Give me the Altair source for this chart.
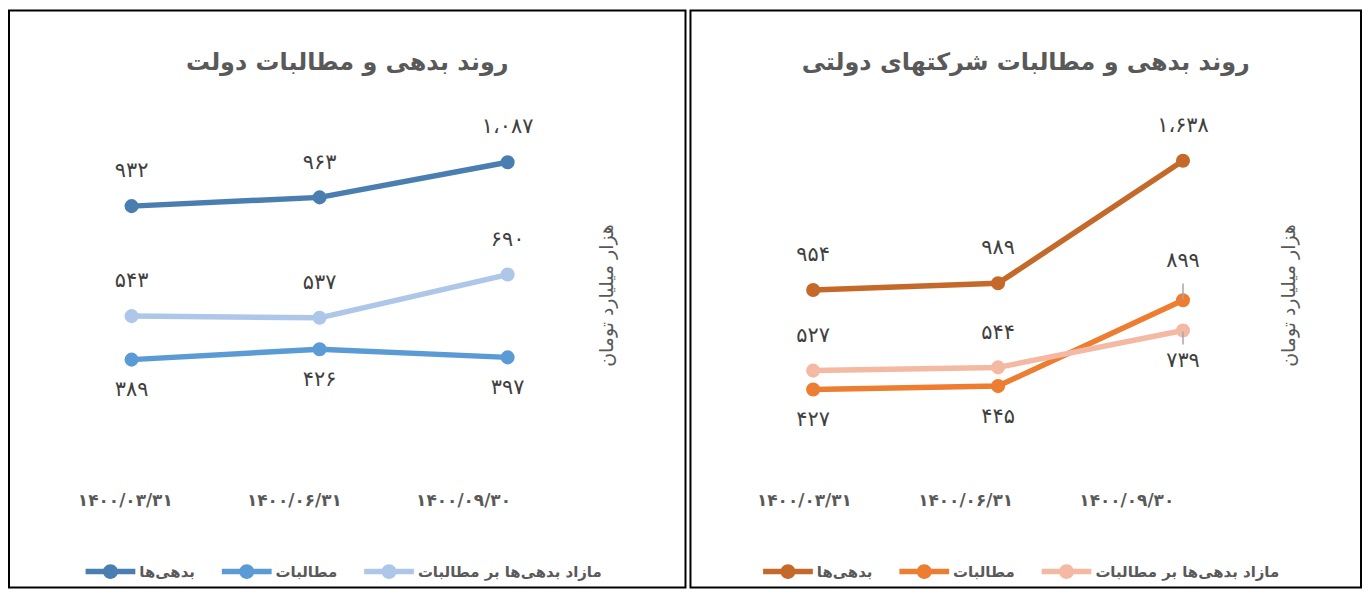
import altair as alt
import pandas as pd

FONT = "DejaVu Sans"

dates = ["۱۴۰۰/۰۳/۳۱", "۱۴۰۰/۰۶/۳۱", "۱۴۰۰/۰۹/۳۰"]
series = ["بدهی‌ها", "مطالبات", "مازاد بدهی‌ها بر مطالبات"]

gov_debts = [932, 963, 1087]
gov_claims = [389, 426, 397]
gov_surplus = [543, 537, 690]

soe_debts = [954, 989, 1638]
soe_claims = [427, 445, 899]
soe_surplus = [527, 544, 739]

gov_title = "روند بدهی و مطالبات دولت"
soe_title = "روند بدهی و مطالبات شرکتهای دولتی"
y_title = "هزار میلیارد تومان"

gov_colors = ["#4a7eb0", "#5b9bd5", "#aec7e8"]
soe_colors = ["#c5692a", "#ed7d31", "#f4b9a3"]

FA = str.maketrans("0123456789,", "۰۱۲۳۴۵۶۷۸۹،")


def fa(v):
    return f"{v:,}".translate(FA)


def frame(debts, claims, surplus):
    rows = []
    for si, (s, vals) in enumerate(zip(series, [debts, claims, surplus])):
        for i, (d, v) in enumerate(zip(dates, vals)):
            rows.append({"date": d, "idx": i, "sidx": si, "series": s,
                         "value": v, "label": fa(v)})
    return pd.DataFrame(rows)


H = 580
PATH = ("M-1.667,-0.183L1.667,-0.183L1.667,0.183L-1.667,0.183Z"
        "M0.5,0A0.5,0.5,0,1,1,-0.5,0A0.5,0.5,0,1,1,0.5,0Z")


def panel(df, title, colors, width, ydomain, xpad, xalign, lab_a, lab_b,
          above_expr, leader_above=None, leader_below=None, legend_x=87):
    base = alt.Chart(df)
    x = alt.X("date:O", sort=dates,
              scale=alt.Scale(type="point", padding=xpad, align=xalign),
              axis=alt.Axis(title=None, orient="bottom", offset=-87,
                            domain=False, ticks=False, tickSize=0, grid=False,
                            labelPadding=0, labelBaseline="middle", labelAngle=0,
                            labelFont=FONT, labelFontSize=17, labelFontWeight="bold",
                            labelColor="#595959",
                            labelOffset=alt.ExprRef(expr=f"{lab_a} + ({lab_b})*datum.index")))
    y = alt.Y("value:Q", scale=alt.Scale(domain=ydomain, nice=False, zero=False),
              axis=alt.Axis(orient="right", title=y_title, labels=False, ticks=False,
                            domain=False, grid=False, offset=601 - width,
                            titleX=0, titleY=286, titleAngle=270,
                            titleBaseline="middle", titleAlign="center",
                            titleFont=FONT, titleFontSize=19, titleFontWeight="normal",
                            titleColor="#595959"))

    leg = alt.Legend(title=None, orient="none", legendX=legend_x, legendY=549,
                     direction="horizontal",
                     symbolType=PATH, symbolSize=900, symbolStrokeWidth=0,
                     symbolOpacity=1,
                     labelFont=FONT, labelFontSize=15, labelLimit=0,
                     labelFontWeight="bold", labelColor="#595959",
                     labelOffset=14, columnPadding=26, padding=0)

    lines = base.mark_line(strokeWidth=5.5, strokeCap="round", strokeJoin="round").encode(
        x=x, y=y,
        stroke=alt.Stroke("sidx:N", scale=alt.Scale(domain=[0, 1, 2], range=colors),
                          legend=None),
        detail="sidx:N")
    pts = base.mark_circle(size=200, opacity=1).encode(
        x=x, y=y,
        color=alt.Color("series:N", scale=alt.Scale(domain=series, range=colors),
                        legend=leg))
    text_kw = dict(font=FONT, fontSize=21, color="#404040", baseline="middle", align="center")
    excl = []
    if leader_above:
        excl.append(leader_above)
    if leader_below:
        excl.append(leader_below)
    below_expr = f"!({above_expr})"
    for e in excl:
        below_expr += f" && !({e})"
    layers = [lines, pts]
    layers.append(base.transform_filter(above_expr).mark_text(dy=-35, **text_kw).encode(
        x=x, y=y, text="label:N"))
    layers.append(base.transform_filter(below_expr).mark_text(dy=31, **text_kw).encode(
        x=x, y=y, text="label:N"))
    if leader_above:
        layers.append(base.transform_filter(leader_above).mark_rule(
            color="#a6a6a6", strokeWidth=1.5, yOffset=-17, y2Offset=-1).encode(
            x=x, y=y, y2=alt.Y2("value:Q")))
        layers.append(base.transform_filter(leader_above).mark_text(dy=-39, **text_kw).encode(
            x=x, y=y, text="label:N"))
    if leader_below:
        layers.append(base.transform_filter(leader_below).mark_rule(
            color="#a6a6a6", strokeWidth=1.5, yOffset=1, y2Offset=14).encode(
            x=x, y=y, y2=alt.Y2("value:Q")))
        layers.append(base.transform_filter(leader_below).mark_text(dy=31, **text_kw).encode(
            x=x, y=y, text="label:N"))

    return alt.layer(*layers).properties(
        width=width, height=H,
        title=alt.TitleParams(title, font=FONT, fontSize=24, fontWeight="bold",
                              color="#595959", offset=-77, anchor="middle",
                              baseline="middle"))


left = panel(frame(gov_debts, gov_claims, gov_surplus), gov_title, gov_colors,
             680, [-417, 1624], 0.799, 0.408, -6.8, -38,
             "datum.sidx != 1", legend_x=87)
right = panel(frame(soe_debts, soe_claims, soe_surplus), soe_title, soe_colors,
              674, [-621, 2433], 0.813, 0.408, -9.3, -47.7,
              "datum.sidx == 0 || (datum.sidx == 2 && datum.idx < 2)",
              leader_above="datum.sidx == 1 && datum.idx == 2",
              leader_below="datum.sidx == 2 && datum.idx == 2",
              legend_x=83)

chart = alt.hconcat(left, right, spacing=3).resolve_scale(
    color="independent", stroke="independent"
).resolve_legend(color="independent").configure_view(
    stroke="black", strokeWidth=2).properties(padding=0, background="white")

chart.save("out.html", embed_options={"renderer": "svg", "actions": False})
